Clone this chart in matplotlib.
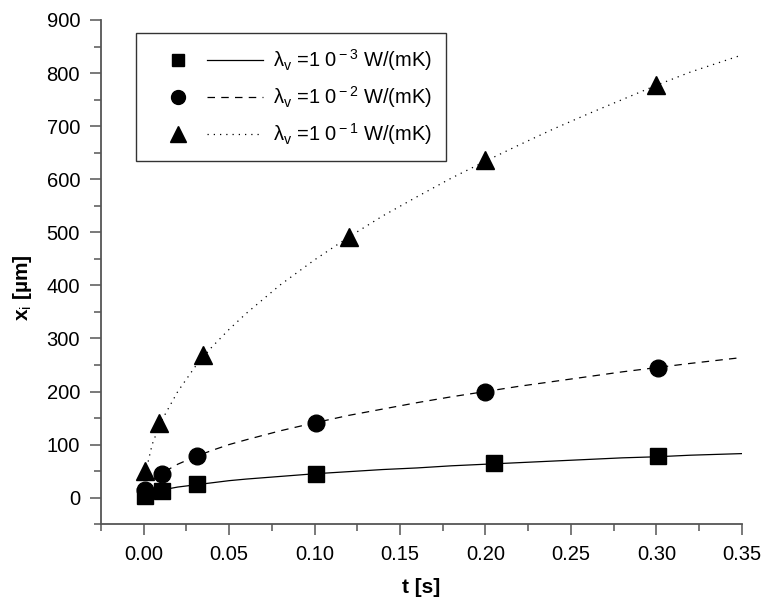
import matplotlib.pyplot as plt
from matplotlib.legend_handler import HandlerTuple
from matplotlib.lines import Line2D

plt.rcParams['font.family'] = ['Liberation Sans', 'DejaVu Sans']
plt.rcParams['mathtext.fontset'] = 'custom'
plt.rcParams['mathtext.rm'] = 'Liberation Sans'
plt.rcParams['mathtext.it'] = 'Liberation Sans'

# calculated curves
t_line = [0.001, 0.005, 0.01, 0.02, 0.03, 0.04, 0.05, 0.06, 0.08, 0.10, 0.12,
          0.14, 0.16, 0.18, 0.20, 0.22, 0.24, 0.26, 0.28, 0.30, 0.32, 0.35]
x_line_3 = [4.5, 10, 14, 20, 24, 28, 32, 35, 40, 45, 49,
            53, 56, 60, 63, 66, 69, 72, 75, 77, 80, 83]
x_line_2 = [14, 32, 45, 63, 77, 89, 100, 109, 126, 141, 155,
            167, 179, 190, 200, 210, 219, 228, 237, 245, 253, 264]
x_line_1 = [45, 100, 142, 200, 246, 284, 317, 347, 401, 448, 491,
            531, 567, 602, 634, 665, 695, 723, 750, 777, 802, 834]

# measured points
sq_t = [0.001, 0.011, 0.031, 0.101, 0.205, 0.301]
sq_x = [3, 13, 25, 45, 65, 78]
ci_t = [0.001, 0.011, 0.031, 0.101, 0.200, 0.301]
ci_x = [14, 45, 79, 141, 200, 245]
tr_t = [0.001, 0.009, 0.035, 0.120, 0.200, 0.300]
tr_x = [50, 140, 268, 492, 636, 778]

labels = [r'$\lambda_{\rm v}$ =1 0$^{\rm -3}$ W/(mK)',
          r'$\lambda_{\rm v}$ =1 0$^{\rm -2}$ W/(mK)',
          r'$\lambda_{\rm v}$ =1 0$^{\rm -1}$ W/(mK)']

fig = plt.figure(figsize=(7.64, 6.06), dpi=100)
ax = fig.add_axes([0.132, 0.135, 0.839, 0.832])

l1, = ax.plot(t_line, x_line_3, '-', color='black', lw=0.9)
l2, = ax.plot(t_line, x_line_2, color='black', lw=0.9, dashes=(6, 5))
l3, = ax.plot(t_line, x_line_1, color='black', lw=0.9, dashes=(1, 4))

m1, = ax.plot(sq_t, sq_x, 's', color='black', ms=11, zorder=3)
m2, = ax.plot(ci_t, ci_x, 'o', color='black', ms=12, zorder=3)
m3, = ax.plot(tr_t, tr_x, '^', color='black', ms=13, zorder=3)

ax.set_xlim(-0.025, 0.35)
ax.set_ylim(-50, 900)
ax.set_xticks([0.0, 0.05, 0.10, 0.15, 0.20, 0.25, 0.30, 0.35])
ax.set_xticks([-0.025, 0.025, 0.075, 0.125, 0.175, 0.225, 0.275, 0.325], minor=True)
ax.set_yticks(range(0, 901, 100))
ax.set_yticks(range(-50, 900, 100), minor=True)
ax.set_xticklabels(['0.00', '0.05', '0.10', '0.15', '0.20', '0.25', '0.30', '0.35'])

for s in ['top', 'right']:
    ax.spines[s].set_visible(False)
for s in ['left', 'bottom']:
    ax.spines[s].set_color('#555555')
    ax.spines[s].set_linewidth(1.3)
ax.tick_params(which='major', direction='out', length=8, width=1.1, color='#555555',
               labelsize=14.5, pad=7)
ax.tick_params(which='minor', direction='out', length=5, width=1.1, color='#555555')

ax.set_xlabel('t [s]', fontsize=15, fontweight='bold')
ax.set_ylabel(r'x$_{\rm i}$ [µm]', fontsize=15, fontweight='bold')
ax.xaxis.set_label_coords(0.5, -0.107)
ax.yaxis.set_label_coords(-0.104, 0.47)

ms_leg = [Line2D([], [], marker='s', ls='none', color='black', ms=9),
          Line2D([], [], marker='o', ls='none', color='black', ms=10),
          Line2D([], [], marker='^', ls='none', color='black', ms=11)]
handles = [(ms_leg[0], l1), (ms_leg[1], l2), (ms_leg[2], l3)]
leg = ax.legend(handles, labels, handler_map={tuple: HandlerTuple(ndivide=None, pad=0)},
                loc='upper left', bbox_to_anchor=(0.055, 0.974), fontsize=14.5,
                handlelength=5.6, handletextpad=0.5, borderpad=0.7, labelspacing=0.55,
                borderaxespad=0, fancybox=False, edgecolor='#333333', framealpha=1)
leg.get_frame().set_linewidth(1.0)

fig.savefig('out.png', dpi=100)
